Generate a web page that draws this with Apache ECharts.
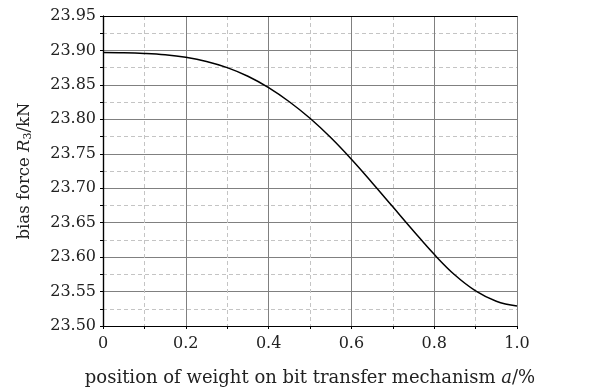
<!DOCTYPE html>
<html><head><meta charset="utf-8">
<script src="https://cdn.jsdelivr.net/npm/echarts@6/dist/echarts.min.js"></script>
<style>html,body{margin:0;padding:0;background:#fff}#c{width:593px;height:392px}</style>
</head><body><div id="c"></div>
<script>
const xValues = [0, 0.05, 0.1, 0.15, 0.2, 0.25, 0.3, 0.35, 0.4, 0.45, 0.5, 0.55, 0.6, 0.65, 0.7, 0.75, 0.8, 0.85, 0.9, 0.95, 1.0];
const forceValues = [23.8970, 23.8967, 23.8957, 23.8937, 23.8900, 23.8840, 23.8750, 23.8625, 23.8460, 23.8255, 23.8015, 23.7735, 23.7420, 23.7080, 23.6730, 23.6380, 23.6040, 23.5740, 23.5510, 23.5360, 23.5290];
const xTitle = 'position of weight on bit transfer mechanism ';
const yTitle = 'bias force ';

const font = 'DejaVu Serif';
const chart = echarts.init(document.getElementById('c'), null, {renderer: 'canvas'});
const frame = {
  show: true, axisLine: {show: true, lineStyle: {color: '#000', width: 1.2}},
  axisTick: {show: false}, axisLabel: {show: false}, splitLine: {show: false}
};
chart.setOption({
  animation: false,
  grid: {left: 103, right: 76, top: 16, bottom: 66},
  xAxis: [{
    type: 'value', min: 0, max: 1, interval: 0.2, position: 'bottom',
    name: xTitle + '{i|a}/%', nameLocation: 'middle', nameGap: 43,
    nameTextStyle: {fontFamily: font, fontSize: 18, color: '#222',
      rich: {i: {fontFamily: font, fontStyle: 'italic', fontSize: 18, color: '#222'}}},
    axisLine: {lineStyle: {color: '#000', width: 1.2}},
    axisTick: {show: true, length: 3, lineStyle: {color: '#000'}},
    minorTick: {show: true, splitNumber: 2, length: 3, lineStyle: {color: '#000'}},
    axisLabel: {fontFamily: font, fontSize: 16, color: '#222', margin: 10,
      formatter: v => v === 0 ? '0' : v.toFixed(1)},
    splitLine: {show: true, lineStyle: {color: '#808080', width: 1}},
    minorSplitLine: {show: true, lineStyle: {color: '#c4c4c4', type: [4, 3], width: 1}}
  }, Object.assign({type: 'value', min: 0, max: 1, position: 'top'}, frame)],
  yAxis: [{
    type: 'value', min: 23.5, max: 23.95, interval: 0.05, position: 'left',
    name: yTitle + '{i|R}{s|3}/kN', nameLocation: 'middle', nameGap: 69, nameRotate: 90,
    nameTextStyle: {fontFamily: font, fontSize: 16.5, color: '#222',
      rich: {i: {fontFamily: font, fontStyle: 'italic', fontSize: 16.5, color: '#222'},
             s: {fontFamily: font, fontSize: 11, color: '#222', verticalAlign: 'bottom', padding: [8, 0, 0, 0]}}},
    axisLine: {lineStyle: {color: '#000', width: 1.2}},
    axisTick: {show: true, length: 3, lineStyle: {color: '#000'}},
    minorTick: {show: true, splitNumber: 2, length: 3, lineStyle: {color: '#000'}},
    axisLabel: {fontFamily: font, fontSize: 16, color: '#222', margin: 7,
      formatter: v => v.toFixed(2)},
    splitLine: {show: true, lineStyle: {color: '#808080', width: 1}},
    minorSplitLine: {show: true, lineStyle: {color: '#c4c4c4', type: [4, 3], width: 1}}
  }, Object.assign({type: 'value', min: 23.5, max: 23.95, position: 'right'}, frame)],
  series: [{
    type: 'line', xAxisIndex: 0, yAxisIndex: 0, smooth: 0.4, symbol: 'none',
    lineStyle: {color: '#000', width: 1.5},
    data: xValues.map((x, i) => [x, forceValues[i]]), z: 5
  }]
});
</script></body></html>
